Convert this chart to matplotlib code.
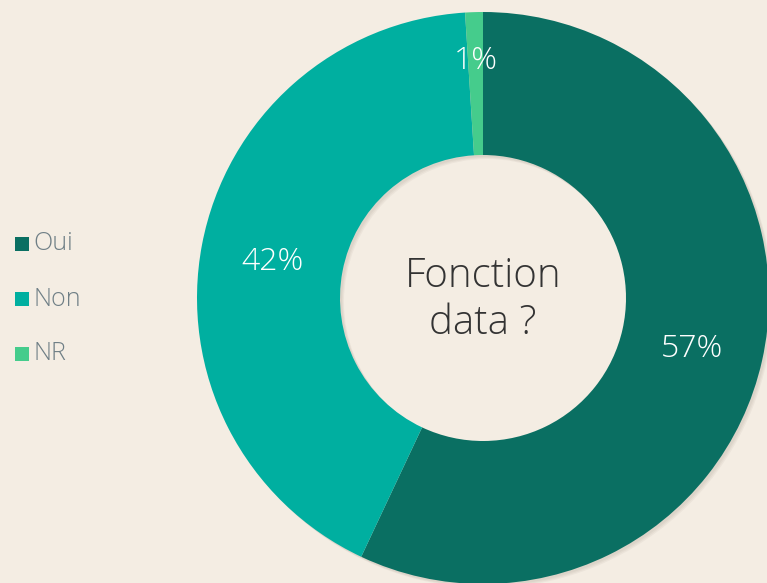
import matplotlib.pyplot as plt
from matplotlib.patches import Wedge
import numpy as np

labels = ["Oui", "Non", "NR"]
values = [57, 42, 1]
colors = ["#0A6F62", "#00AFA0", "#45CC8C"]
title = "Fonction\ndata ?"

bg = "#F4EDE3"
plt.rcParams['font.family'] = ['Open Sans', 'DejaVu Sans']

fig = plt.figure(figsize=(7.67, 5.83), dpi=100, facecolor=bg)
ax = fig.add_axes([0, 0, 1, 1])
ax.set_facecolor(bg)

cx, cy = 483, 285
r_out, r_in = 286, 143
width = r_out - r_in

# soft shadow under the ring
for i in range(3):
    ax.add_patch(Wedge((cx + 2 + i, cy - 2 - i), r_out, 0, 360, width=width,
                       facecolor="#5a4a3a", alpha=0.05, edgecolor="none", zorder=0))

wedges, texts, autotexts = ax.pie(
    values, colors=colors, startangle=90, counterclock=False,
    center=(cx, cy), radius=r_out,
    wedgeprops=dict(width=width, edgecolor="none"),
    autopct="%1.0f%%", pctdistance=0.75,
    textprops=dict(color="white", fontsize=23, fontweight="light"),
)
for w in wedges:
    w.set_zorder(1)

# the small slice label sits further out
ang = np.deg2rad(90 - 360 * (sum(values[:2]) + values[2] / 2) / sum(values))
autotexts[2].set_position((cx + 241 * np.cos(ang), cy + 241 * np.sin(ang)))
for t in autotexts:
    x, y = t.get_position()
    t.set_position((x, y - 4))

ax.text(cx, cy - 2, title, ha="center", va="center", fontsize=29,
        color="#333333", fontweight="light", linespacing=1.2)

ax.set_xlim(0, 767)
ax.set_ylim(0, 583)
ax.set_aspect("equal")
ax.axis("off")

# legend on the left
for i, (lab, col) in enumerate(zip(labels, colors)):
    y = 583 - 244 - 55 * i
    ax.add_patch(plt.Rectangle((15, y - 7), 14, 14, facecolor=col, edgecolor="none"))
    ax.text(33, y, lab, ha="left", va="center", fontsize=18, color="#6F7F86",
            fontweight="light")

fig.savefig("out.png", dpi=100, facecolor=bg)
